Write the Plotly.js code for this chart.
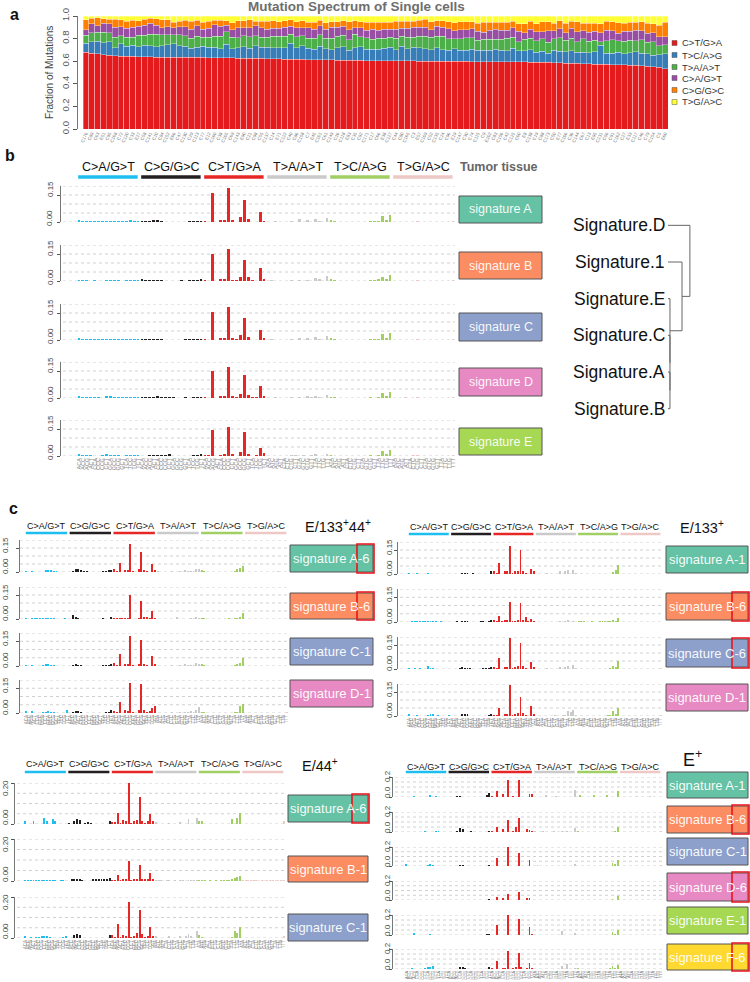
<!DOCTYPE html>
<html><head><meta charset="utf-8">
<script src="https://cdn.plot.ly/plotly-3.0.1.min.js"></script>
<style>html,body{margin:0;padding:0;background:#fff}#chart{width:750px;height:982px}</style>
</head><body><div id="chart"></div>
<script>
// ================= DATA =================
// Panel a: single-cell mutation spectrum
const cellLabels = [
"C176","C89","C63","E51","C95","C168","C72","C120","C33","E27",
"C58","C141","C10","C84","C152","E66","C47","C130","C29","C113",
"C77","E12","C160","C38","C105","C69","C143","E90","C21","C98",
"C55","C137","C14","E71","C122","C40","C86","C158","C7","E45",
"C101","C61","C149","C26","C118","E83","C35","C92","C171","C17",
"C66","E38","C127","C44","C80","C165","C3","E57","C109","C52",
"C135","C24","C96","E19","C147","C30","C74","C115","C9","E102",
"C83","C156","C42","C125","C60","E8","C138","C19","C88","C173",
"C50","E77","C106","C36","C144","C67","C13","E95","C131","C56",
"C91","C162","C27","E33","C117","C46","C79","C154","C5","E60"];
const spectrumTypes = ["C>T/G>A","T>C/A>G","T>A/A>T","C>A/G>T","C>G/G>C","T>G/A>C"];
const fracCT = [
0.68,0.67,0.665,0.655,0.652,0.65,0.645,0.643,0.642,0.64,
0.64,0.638,0.637,0.636,0.636,0.635,0.635,0.634,0.634,0.633,
0.633,0.632,0.632,0.631,0.63,0.63,0.628,0.627,0.626,0.625,
0.624,0.622,0.62,0.62,0.619,0.618,0.617,0.616,0.615,0.614,
0.613,0.612,0.611,0.61,0.61,0.609,0.608,0.607,0.606,0.605,
0.605,0.604,0.604,0.603,0.603,0.602,0.602,0.601,0.601,0.6,
0.6,0.6,0.599,0.599,0.598,0.598,0.597,0.597,0.596,0.596,
0.595,0.595,0.594,0.594,0.593,0.593,0.592,0.591,0.59,0.589,
0.588,0.586,0.584,0.582,0.58,0.578,0.576,0.575,0.573,0.572,
0.57,0.569,0.567,0.565,0.563,0.56,0.557,0.553,0.548,0.535];
const fracTC = [
0.08,0.1,0.11,0.11,0.12,0.07,0.11,0.09,0.1,0.09,
0.1,0.1,0.09,0.1,0.11,0.12,0.1,0.1,0.08,0.09,
0.1,0.09,0.09,0.08,0.12,0.08,0.09,0.1,0.09,0.11,
0.1,0.1,0.1,0.1,0.1,0.14,0.1,0.12,0.1,0.09,
0.12,0.1,0.09,0.11,0.12,0.09,0.11,0.12,0.1,0.1,
0.1,0.11,0.12,0.1,0.13,0.11,0.12,0.12,0.11,0.1,
0.12,0.1,0.1,0.11,0.1,0.1,0.11,0.1,0.1,0.1,
0.11,0.1,0.1,0.12,0.1,0.1,0.11,0.09,0.1,0.08,
0.11,0.1,0.1,0.11,0.1,0.1,0.1,0.11,0.17,0.1,
0.1,0.11,0.1,0.11,0.12,0.11,0.11,0.1,0.11,0.13];
const fracTA = [
0.07,0.08,0.08,0.09,0.08,0.09,0.07,0.08,0.07,0.1,
0.09,0.1,0.11,0.1,0.09,0.08,0.1,0.09,0.09,0.1,
0.08,0.09,0.1,0.11,0.11,0.1,0.09,0.1,0.1,0.09,
0.09,0.09,0.1,0.1,0.1,0.08,0.1,0.09,0.09,0.1,
0.1,0.09,0.1,0.1,0.1,0.09,0.12,0.09,0.1,0.09,
0.1,0.09,0.09,0.1,0.09,0.1,0.09,0.1,0.11,0.11,
0.1,0.12,0.1,0.09,0.1,0.11,0.1,0.09,0.1,0.1,
0.09,0.1,0.11,0.1,0.08,0.1,0.1,0.1,0.11,0.1,
0.1,0.12,0.1,0.11,0.09,0.12,0.1,0.1,0.03,0.11,
0.12,0.1,0.11,0.11,0.1,0.12,0.1,0.12,0.08,0.08];
const fracCA = [
0.05,0.08,0.06,0.08,0.08,0.09,0.08,0.08,0.09,0.08,
0.09,0.1,0.08,0.06,0.07,0.06,0.07,0.08,0.08,0.09,
0.07,0.08,0.1,0.09,0.06,0.07,0.09,0.07,0.08,0.09,
0.08,0.07,0.07,0.07,0.08,0.07,0.08,0.07,0.09,0.08,
0.08,0.08,0.1,0.08,0.08,0.09,0.06,0.08,0.07,0.09,
0.07,0.08,0.07,0.08,0.07,0.08,0.09,0.08,0.08,0.07,
0.09,0.08,0.09,0.07,0.08,0.07,0.08,0.08,0.06,0.08,
0.09,0.08,0.07,0.08,0.09,0.06,0.08,0.08,0.06,0.1,
0.07,0.08,0.07,0.09,0.09,0.07,0.08,0.08,0.08,0.09,
0.08,0.07,0.09,0.08,0.09,0.08,0.08,0.08,0.08,0.07];
const fracCG = [
0.085,0.05,0.07,0.04,0.04,0.07,0.06,0.06,0.06,0.05,
0.05,0.04,0.06,0.07,0.06,0.05,0.05,0.06,0.07,0.05,
0.06,0.06,0.04,0.05,0.04,0.06,0.06,0.06,0.07,0.04,
0.06,0.07,0.07,0.06,0.06,0.06,0.05,0.06,0.05,0.06,
0.05,0.06,0.05,0.05,0.05,0.07,0.06,0.05,0.07,0.06,
0.07,0.06,0.06,0.07,0.06,0.06,0.05,0.06,0.07,0.07,
0.05,0.06,0.06,0.07,0.07,0.07,0.06,0.07,0.09,0.07,
0.06,0.07,0.07,0.06,0.07,0.08,0.07,0.07,0.09,0.08,
0.07,0.07,0.08,0.06,0.09,0.07,0.08,0.07,0.08,0.08,
0.08,0.09,0.07,0.08,0.07,0.08,0.09,0.08,0.1,0.13];
const fracTG = [
0.035,0.02,0.015,0.025,0.028,0.03,0.035,0.047,0.038,0.04,
0.03,0.022,0.023,0.034,0.034,0.055,0.045,0.036,0.046,0.037,
0.057,0.048,0.038,0.039,0.04,0.06,0.042,0.043,0.034,0.045,
0.046,0.048,0.04,0.05,0.041,0.032,0.053,0.044,0.055,0.056,
0.037,0.058,0.049,0.05,0.04,0.051,0.042,0.053,0.054,0.055,
0.055,0.056,0.056,0.047,0.047,0.048,0.048,0.039,0.029,0.05,
0.04,0.04,0.051,0.061,0.052,0.052,0.053,0.063,0.054,0.054,
0.055,0.055,0.056,0.046,0.067,0.067,0.048,0.069,0.05,0.051,
0.062,0.044,0.066,0.048,0.05,0.062,0.064,0.065,0.067,0.048,
0.05,0.061,0.063,0.055,0.057,0.05,0.063,0.067,0.082,0.055];

// 96-channel signatures
const mutationTypes = ["C>A/G>T","C>G/G>C","C>T/G>A","T>A/A>T","T>C/A>G","T>G/A>C"];
const refBases = ["C","C","C","T","T","T"];
const flankBases = ["A","C","G","T"];

// Panel b: tumor tissue
const sigA_tumor = [
0.012,0.006,0.008,0.003,0.003,0.003,0.004,0.007,0.007,0.007,0.006,0.003,0.004,0.009,0.006,0.005,
0.003,0.003,0.005,0.009,0.009,0.007,0.002,0.002,0.002,0.002,0.002,0.002,0.004,0.005,0.003,0.008,
0.004,0.002,0.161,0.002,0.012,0.013,0.187,0.009,0.002,0.026,0.124,0.014,0.002,0.002,0.054,0.008,
0.001,0.002,0.004,0.001,0.001,0.002,0.004,0.001,0.015,0.002,0.010,0.001,0.016,0.006,0.002,0.020,
0.010,0.003,0.002,0.002,0.002,0.002,0.002,0.002,0.002,0.002,0.004,0.003,0.005,0.035,0.012,0.041,
0.002,0.001,0.001,0.002,0.001,0.002,0.006,0.002,0.001,0.001,0.001,0.002,0.002,0.001,0.002,0.003];
const sigB_tumor = [
0.005,0.005,0.004,0.002,0.003,0.002,0.002,0.006,0.006,0.004,0.005,0.002,0.003,0.005,0.003,0.006,
0.012,0.003,0.004,0.007,0.008,0.005,0.002,0.002,0.002,0.002,0.003,0.002,0.005,0.007,0.004,0.010,
0.005,0.002,0.148,0.002,0.010,0.010,0.176,0.008,0.003,0.024,0.117,0.020,0.003,0.002,0.070,0.010,
0.001,0.004,0.001,0.001,0.002,0.002,0.003,0.001,0.004,0.002,0.006,0.002,0.018,0.010,0.002,0.028,
0.012,0.008,0.002,0.002,0.002,0.002,0.002,0.002,0.002,0.002,0.003,0.004,0.010,0.025,0.010,0.032,
0.002,0.001,0.001,0.002,0.001,0.002,0.006,0.002,0.001,0.001,0.001,0.002,0.002,0.001,0.002,0.003];
const sigC_tumor = [
0.010,0.005,0.007,0.003,0.003,0.004,0.004,0.008,0.006,0.007,0.006,0.003,0.004,0.008,0.005,0.006,
0.003,0.003,0.006,0.008,0.008,0.006,0.002,0.002,0.002,0.002,0.002,0.003,0.004,0.006,0.004,0.008,
0.004,0.002,0.158,0.002,0.012,0.012,0.183,0.009,0.003,0.026,0.122,0.015,0.002,0.002,0.055,0.009,
0.002,0.003,0.002,0.002,0.001,0.002,0.003,0.002,0.012,0.002,0.009,0.002,0.016,0.008,0.002,0.022,
0.010,0.003,0.002,0.002,0.002,0.002,0.002,0.002,0.002,0.002,0.004,0.003,0.005,0.033,0.012,0.040,
0.002,0.001,0.001,0.002,0.001,0.002,0.005,0.002,0.001,0.001,0.001,0.002,0.002,0.001,0.002,0.003];
const sigD_tumor = [
0.009,0.008,0.004,0.007,0.003,0.003,0.002,0.010,0.011,0.006,0.004,0.003,0.007,0.003,0.008,0.004,
0.003,0.004,0.003,0.005,0.009,0.004,0.007,0.003,0.003,0.002,0.002,0.003,0.002,0.003,0.003,0.008,
0.004,0.002,0.150,0.002,0.010,0.012,0.172,0.009,0.003,0.025,0.130,0.014,0.003,0.003,0.067,0.010,
0.002,0.002,0.006,0.002,0.001,0.002,0.003,0.001,0.003,0.002,0.010,0.004,0.010,0.004,0.002,0.018,
0.006,0.003,0.002,0.002,0.002,0.002,0.002,0.002,0.002,0.002,0.003,0.002,0.004,0.030,0.010,0.036,
0.002,0.001,0.002,0.003,0.001,0.002,0.004,0.002,0.001,0.001,0.001,0.002,0.002,0.001,0.002,0.003];
const sigE_tumor = [
0.010,0.008,0.003,0.006,0.002,0.002,0.003,0.011,0.004,0.008,0.003,0.002,0.007,0.003,0.005,0.003,
0.002,0.002,0.003,0.003,0.008,0.004,0.006,0.011,0.002,0.002,0.002,0.002,0.002,0.004,0.006,0.012,
0.008,0.008,0.144,0.002,0.005,0.010,0.163,0.010,0.002,0.022,0.131,0.012,0.002,0.003,0.043,0.016,
0.001,0.002,0.001,0.002,0.001,0.002,0.005,0.008,0.002,0.004,0.001,0.004,0.012,0.002,0.002,0.013,
0.006,0.002,0.002,0.002,0.002,0.002,0.002,0.002,0.002,0.002,0.003,0.002,0.004,0.030,0.010,0.035,
0.002,0.001,0.002,0.002,0.001,0.004,0.006,0.002,0.001,0.001,0.001,0.002,0.002,0.001,0.002,0.004];

// Panel c: E/133+44+
const sigA6_E133p44p = [
0.008,0.003,0.006,0.003,0.002,0.002,0.003,0.012,0.010,0.010,0.006,0.004,0.002,0.002,0.003,0.002,
0.003,0.008,0.019,0.017,0.010,0.004,0.006,0.003,0.002,0.002,0.002,0.003,0.004,0.008,0.010,0.014,
0.020,0.005,0.058,0.003,0.010,0.012,0.173,0.004,0.002,0.020,0.124,0.015,0.004,0.002,0.050,0.012,
0.005,0.002,0.002,0.003,0.002,0.004,0.002,0.001,0.006,0.002,0.010,0.004,0.008,0.004,0.016,0.020,
0.012,0.005,0.003,0.002,0.002,0.002,0.002,0.002,0.002,0.002,0.002,0.003,0.006,0.020,0.028,0.040,
0.001,0.001,0.001,0.001,0.001,0.001,0.001,0.001,0.001,0.001,0.001,0.001,0.004,0.001,0.001,0.002];
const sigB6_E133p44p = [
0.004,0.003,0.004,0.004,0.004,0.004,0.004,0.006,0.005,0.008,0.004,0.003,0.002,0.002,0.004,0.002,
0.003,0.025,0.012,0.008,0.003,0.002,0.002,0.002,0.002,0.002,0.002,0.002,0.004,0.002,0.003,0.010,
0.006,0.004,0.008,0.004,0.006,0.006,0.150,0.003,0.002,0.008,0.113,0.010,0.012,0.004,0.050,0.008,
0.002,0.002,0.002,0.002,0.002,0.003,0.003,0.012,0.002,0.002,0.002,0.003,0.006,0.004,0.012,0.004,
0.004,0.004,0.003,0.002,0.002,0.002,0.002,0.003,0.002,0.002,0.004,0.002,0.006,0.008,0.010,0.037,
0.001,0.001,0.001,0.001,0.001,0.001,0.001,0.001,0.001,0.001,0.001,0.001,0.001,0.001,0.001,0.003];
const sigC1_E133p44p = [
0.008,0.002,0.006,0.003,0.002,0.003,0.004,0.010,0.012,0.008,0.005,0.003,0.002,0.002,0.003,0.002,
0.002,0.004,0.010,0.008,0.006,0.003,0.002,0.002,0.002,0.002,0.002,0.003,0.004,0.005,0.004,0.012,
0.016,0.005,0.072,0.003,0.012,0.014,0.180,0.005,0.002,0.010,0.155,0.012,0.004,0.002,0.058,0.010,
0.002,0.002,0.002,0.003,0.002,0.004,0.003,0.002,0.006,0.003,0.012,0.004,0.008,0.004,0.016,0.010,
0.010,0.006,0.002,0.002,0.002,0.002,0.002,0.002,0.002,0.002,0.002,0.002,0.006,0.010,0.020,0.050,
0.001,0.001,0.001,0.001,0.001,0.001,0.001,0.001,0.001,0.001,0.001,0.001,0.003,0.001,0.002,0.003];
const sigD1_E133p44p = [
0.010,0.002,0.012,0.003,0.002,0.003,0.004,0.008,0.010,0.006,0.004,0.003,0.002,0.002,0.002,0.016,
0.002,0.004,0.012,0.012,0.006,0.003,0.002,0.002,0.002,0.002,0.002,0.002,0.003,0.004,0.004,0.016,
0.010,0.004,0.066,0.003,0.016,0.010,0.180,0.004,0.002,0.020,0.175,0.020,0.004,0.012,0.030,0.045,
0.002,0.002,0.002,0.003,0.002,0.004,0.003,0.002,0.004,0.003,0.006,0.004,0.012,0.004,0.020,0.036,
0.008,0.006,0.002,0.002,0.002,0.002,0.002,0.002,0.002,0.002,0.002,0.002,0.004,0.008,0.044,0.057,
0.001,0.001,0.001,0.001,0.001,0.001,0.001,0.001,0.001,0.001,0.001,0.001,0.001,0.001,0.001,0.004];

// Panel c: E/133+
const sigA1_E133p = [
0.008,0.002,0.002,0.006,0.002,0.002,0.003,0.004,0.002,0.002,0.002,0.002,0.002,0.001,0.001,0.001,
0.001,0.001,0.001,0.002,0.008,0.006,0.005,0.003,0.004,0.002,0.001,0.001,0.002,0.002,0.003,0.016,
0.016,0.004,0.066,0.003,0.016,0.016,0.173,0.004,0.016,0.016,0.148,0.020,0.006,0.002,0.033,0.016,
0.003,0.002,0.001,0.002,0.008,0.002,0.002,0.003,0.002,0.016,0.002,0.016,0.024,0.002,0.028,0.008,
0.002,0.002,0.002,0.002,0.002,0.002,0.002,0.002,0.002,0.002,0.002,0.002,0.003,0.012,0.024,0.054,
0.001,0.001,0.001,0.001,0.001,0.001,0.001,0.001,0.001,0.001,0.001,0.001,0.001,0.001,0.001,0.003];
const sigB6_E133p = [
0.003,0.006,0.004,0.004,0.006,0.006,0.006,0.008,0.006,0.008,0.004,0.003,0.004,0.003,0.002,0.002,
0.002,0.002,0.004,0.003,0.006,0.006,0.004,0.002,0.002,0.003,0.003,0.004,0.005,0.003,0.006,0.010,
0.010,0.004,0.037,0.004,0.010,0.012,0.122,0.006,0.008,0.012,0.113,0.010,0.029,0.004,0.020,0.006,
0.002,0.002,0.002,0.002,0.003,0.002,0.003,0.002,0.003,0.004,0.002,0.006,0.010,0.003,0.004,0.002,
0.004,0.004,0.004,0.003,0.003,0.005,0.003,0.002,0.004,0.004,0.004,0.004,0.006,0.012,0.006,0.024,
0.002,0.002,0.002,0.001,0.001,0.002,0.001,0.002,0.001,0.001,0.001,0.002,0.002,0.001,0.002,0.003];
const sigC6_E133p = [
0.006,0.002,0.004,0.003,0.006,0.002,0.002,0.016,0.006,0.008,0.002,0.002,0.002,0.001,0.001,0.001,
0.001,0.001,0.002,0.004,0.010,0.008,0.006,0.004,0.003,0.002,0.002,0.003,0.004,0.004,0.004,0.014,
0.014,0.004,0.066,0.003,0.014,0.014,0.194,0.004,0.014,0.020,0.165,0.018,0.004,0.002,0.045,0.012,
0.002,0.002,0.002,0.002,0.006,0.002,0.002,0.003,0.002,0.012,0.002,0.014,0.020,0.002,0.026,0.004,
0.002,0.002,0.002,0.002,0.002,0.002,0.002,0.002,0.002,0.002,0.002,0.002,0.004,0.020,0.010,0.050,
0.001,0.001,0.001,0.001,0.001,0.001,0.002,0.001,0.001,0.001,0.001,0.001,0.001,0.001,0.001,0.004];
const sigD1_E133p = [
0.012,0.002,0.002,0.004,0.003,0.002,0.003,0.006,0.012,0.010,0.002,0.006,0.002,0.002,0.001,0.006,
0.002,0.001,0.002,0.002,0.012,0.014,0.012,0.003,0.002,0.002,0.002,0.002,0.002,0.002,0.004,0.012,
0.006,0.004,0.047,0.003,0.010,0.012,0.195,0.004,0.014,0.016,0.120,0.016,0.006,0.002,0.064,0.010,
0.002,0.002,0.001,0.002,0.002,0.002,0.002,0.004,0.002,0.002,0.006,0.004,0.032,0.024,0.036,0.004,
0.002,0.002,0.002,0.002,0.002,0.002,0.002,0.002,0.002,0.002,0.002,0.004,0.004,0.030,0.010,0.048,
0.001,0.001,0.001,0.001,0.001,0.001,0.001,0.001,0.001,0.001,0.001,0.001,0.001,0.001,0.001,0.006];

// Panel c: E/44+
const sigA6_E44p = [
0.013,0.002,0.002,0.016,0.002,0.002,0.002,0.029,0.013,0.002,0.022,0.013,0.002,0.002,0.002,0.002,
0.003,0.002,0.016,0.022,0.019,0.002,0.006,0.010,0.003,0.002,0.002,0.002,0.002,0.002,0.002,0.013,
0.012,0.008,0.056,0.003,0.019,0.016,0.200,0.004,0.013,0.019,0.132,0.016,0.004,0.013,0.048,0.013,
0.008,0.002,0.002,0.002,0.002,0.006,0.002,0.002,0.002,0.010,0.002,0.002,0.022,0.002,0.002,0.029,
0.016,0.013,0.002,0.002,0.002,0.002,0.002,0.002,0.002,0.002,0.002,0.002,0.022,0.002,0.029,0.052,
0.001,0.001,0.001,0.001,0.001,0.001,0.001,0.001,0.001,0.001,0.001,0.001,0.001,0.001,0.001,0.013];
const sigB1_E44p = [
0.006,0.006,0.006,0.006,0.006,0.006,0.006,0.006,0.006,0.004,0.006,0.004,0.002,0.006,0.006,0.002,
0.002,0.008,0.010,0.010,0.010,0.006,0.002,0.002,0.002,0.008,0.008,0.008,0.008,0.008,0.010,0.016,
0.006,0.006,0.027,0.006,0.010,0.008,0.097,0.006,0.010,0.008,0.076,0.010,0.010,0.010,0.039,0.010,
0.004,0.004,0.004,0.002,0.004,0.004,0.002,0.004,0.002,0.006,0.004,0.002,0.006,0.004,0.004,0.006,
0.006,0.006,0.004,0.002,0.006,0.002,0.006,0.002,0.006,0.006,0.006,0.004,0.010,0.016,0.018,0.024,
0.003,0.003,0.003,0.003,0.003,0.003,0.001,0.003,0.001,0.003,0.003,0.003,0.003,0.003,0.003,0.003];
const sigC1_E44p = [
0.010,0.002,0.006,0.002,0.004,0.006,0.008,0.010,0.012,0.006,0.002,0.002,0.002,0.002,0.003,0.012,
0.002,0.002,0.016,0.020,0.016,0.002,0.002,0.002,0.002,0.002,0.002,0.002,0.002,0.002,0.002,0.016,
0.016,0.006,0.069,0.003,0.014,0.012,0.177,0.004,0.010,0.022,0.137,0.018,0.004,0.008,0.056,0.012,
0.008,0.002,0.002,0.002,0.002,0.010,0.002,0.002,0.002,0.012,0.002,0.010,0.020,0.012,0.002,0.036,
0.016,0.004,0.002,0.002,0.002,0.002,0.002,0.002,0.002,0.002,0.002,0.002,0.004,0.035,0.022,0.056,
0.001,0.001,0.001,0.001,0.001,0.001,0.001,0.001,0.001,0.001,0.001,0.001,0.001,0.001,0.001,0.010];

// Panel c: E+
const sigA1_Ep = [
0.002,0.002,0.002,0.013,0.002,0.002,0.002,0.002,0.002,0.020,0.002,0.013,0.002,0.002,0.002,0.002,
0.002,0.002,0.002,0.013,0.013,0.002,0.002,0.002,0.002,0.002,0.002,0.002,0.002,0.002,0.020,0.040,
0.006,0.002,0.060,0.003,0.027,0.002,0.167,0.002,0.006,0.002,0.167,0.002,0.003,0.002,0.033,0.033,
0.002,0.002,0.002,0.002,0.020,0.002,0.002,0.002,0.013,0.002,0.002,0.002,0.002,0.002,0.002,0.067,
0.002,0.020,0.002,0.002,0.002,0.002,0.020,0.002,0.002,0.002,0.002,0.020,0.002,0.002,0.002,0.060,
0.001,0.001,0.001,0.001,0.001,0.001,0.013,0.001,0.001,0.001,0.001,0.013,0.001,0.001,0.001,0.001];
const sigB6_Ep = [
0.003,0.002,0.002,0.002,0.002,0.002,0.002,0.013,0.002,0.002,0.002,0.010,0.010,0.002,0.002,0.002,
0.002,0.002,0.002,0.010,0.040,0.035,0.002,0.002,0.013,0.002,0.002,0.002,0.002,0.002,0.002,0.010,
0.006,0.002,0.047,0.003,0.027,0.002,0.123,0.002,0.006,0.047,0.140,0.002,0.003,0.027,0.020,0.010,
0.013,0.002,0.002,0.013,0.002,0.002,0.002,0.013,0.002,0.002,0.013,0.002,0.013,0.002,0.002,0.040,
0.013,0.002,0.002,0.002,0.002,0.002,0.002,0.002,0.002,0.002,0.002,0.002,0.002,0.002,0.013,0.047,
0.001,0.001,0.001,0.001,0.001,0.001,0.001,0.001,0.001,0.001,0.001,0.001,0.001,0.001,0.001,0.010];
const sigC1_Ep = [
0.020,0.002,0.002,0.002,0.002,0.002,0.002,0.002,0.013,0.020,0.013,0.002,0.002,0.002,0.002,0.002,
0.002,0.002,0.002,0.002,0.010,0.010,0.002,0.002,0.002,0.002,0.002,0.002,0.002,0.002,0.002,0.013,
0.002,0.002,0.087,0.002,0.002,0.002,0.200,0.002,0.002,0.002,0.140,0.002,0.002,0.002,0.067,0.002,
0.002,0.013,0.002,0.002,0.002,0.002,0.002,0.002,0.002,0.002,0.002,0.002,0.002,0.002,0.002,0.020,
0.002,0.002,0.002,0.002,0.002,0.002,0.002,0.002,0.002,0.002,0.002,0.002,0.002,0.027,0.020,0.060,
0.001,0.001,0.001,0.001,0.001,0.001,0.001,0.001,0.001,0.001,0.001,0.001,0.001,0.001,0.001,0.010];
const sigD6_Ep = [
0.004,0.004,0.004,0.004,0.004,0.004,0.004,0.004,0.004,0.002,0.004,0.004,0.002,0.004,0.004,0.002,
0.002,0.002,0.004,0.002,0.004,0.002,0.004,0.002,0.002,0.004,0.004,0.004,0.004,0.004,0.002,0.006,
0.004,0.002,0.033,0.002,0.020,0.002,0.060,0.002,0.004,0.004,0.080,0.002,0.002,0.020,0.020,0.004,
0.002,0.002,0.002,0.002,0.002,0.002,0.002,0.002,0.002,0.002,0.002,0.002,0.002,0.002,0.002,0.004,
0.002,0.004,0.002,0.002,0.004,0.004,0.002,0.004,0.004,0.002,0.004,0.004,0.004,0.010,0.004,0.040,
0.002,0.002,0.002,0.002,0.002,0.001,0.002,0.002,0.002,0.001,0.002,0.002,0.001,0.002,0.002,0.002];
const sigE1_Ep = [
0.004,0.002,0.002,0.020,0.002,0.002,0.002,0.002,0.002,0.013,0.002,0.002,0.002,0.002,0.002,0.002,
0.002,0.002,0.002,0.002,0.004,0.002,0.002,0.002,0.002,0.002,0.002,0.002,0.002,0.002,0.013,0.013,
0.002,0.002,0.097,0.002,0.002,0.002,0.200,0.002,0.002,0.002,0.157,0.002,0.002,0.002,0.077,0.013,
0.002,0.002,0.002,0.002,0.002,0.002,0.002,0.002,0.002,0.002,0.040,0.002,0.002,0.002,0.002,0.020,
0.002,0.002,0.002,0.002,0.002,0.002,0.002,0.002,0.002,0.002,0.002,0.002,0.002,0.026,0.010,0.047,
0.001,0.001,0.001,0.001,0.001,0.001,0.001,0.001,0.001,0.001,0.001,0.001,0.001,0.001,0.001,0.003];
const sigF6_Ep = [
0.004,0.002,0.006,0.004,0.002,0.002,0.004,0.013,0.020,0.020,0.027,0.004,0.002,0.002,0.002,0.002,
0.002,0.002,0.002,0.002,0.020,0.020,0.010,0.002,0.002,0.002,0.002,0.002,0.002,0.002,0.002,0.020,
0.010,0.004,0.077,0.002,0.010,0.010,0.183,0.004,0.010,0.020,0.160,0.020,0.002,0.010,0.060,0.010,
0.002,0.002,0.002,0.002,0.002,0.002,0.002,0.002,0.002,0.002,0.033,0.002,0.047,0.002,0.002,0.010,
0.010,0.002,0.002,0.002,0.002,0.002,0.002,0.002,0.002,0.002,0.002,0.002,0.010,0.033,0.010,0.040,
0.001,0.001,0.001,0.001,0.001,0.001,0.001,0.001,0.001,0.001,0.001,0.001,0.001,0.001,0.001,0.003];

// Dendrogram of tumour signatures (R hclust style: negative = leaf, positive = earlier merge)
const dendroLeaves = ["Signature.D","Signature.1","Signature.E","Signature.C","Signature.A","Signature.B"];
const dendroMerge = [[-5,-6],[-4,1],[-3,2],[-2,3],[-1,4]];
const dendroHeight = [0.09,0.09,0.09,0.64,1.0];

// ================= STYLE / LAYOUT =================
const W = 750, H = 982;
const fx = px => px / W;
const fy = py => 1 - py / H;
const FONT = "Liberation Sans, Arial, Helvetica, sans-serif";
const spectrumColors = ["#e41a1c","#377eb8","#4daf4a","#984ea3","#ff7f00","#ffff33"];
const typeColors = ["#1ebff0","#231f20","#e62725","#cbcacb","#a1cf64","#edc8c5"];
const boxColors = {A:"#66c2a5",B:"#fc8d62",C:"#8da0cb",D:"#e78ac3",E:"#a6d854",F:"#ffd92f"};

const channelIdx = [], channelLabels = [], channelColors = [];
mutationTypes.forEach((t, g) => {
  flankBases.forEach(a => flankBases.forEach(b => {
    channelIdx.push(channelIdx.length);
    channelLabels.push(a + refBases[g] + b);
    channelColors.push(typeColors[g]);
  }));
});

const traces = [], shapes = [], annotations = [], layout = {};
function ann(o) { annotations.push(Object.assign({showarrow: false, xanchor: 'center', yanchor: 'middle'}, o)); }
let axCount = 0;
function nextAxes() {
  axCount++;
  const s = axCount === 1 ? '' : String(axCount);
  return {x: 'x' + s, y: 'y' + s, xa: 'xaxis' + s, ya: 'yaxis' + s};
}

// ---------- Panel a ----------
const aAx = nextAxes();
const spectrumSeries = [fracCT, fracTC, fracTA, fracCA, fracCG, fracTG];
spectrumSeries.forEach((vals, i) => traces.push({
  type: 'bar', x: cellLabels, y: vals, name: spectrumTypes[i],
  marker: {color: spectrumColors[i], line: {width: 0.6, color: 'rgba(255,255,255,0.55)'}},
  xaxis: aAx.x, yaxis: aAx.y, hoverinfo: 'skip'
}));
layout[aAx.xa] = {domain: [fx(83), fx(668)], anchor: aAx.y, type: 'category', showgrid: false,
  zeroline: false, showline: false, ticks: '', tickangle: -65, tickfont: {size: 4.5, color: '#777'}};
layout[aAx.ya] = {domain: [fy(129), fy(16)], range: [0, 1], anchor: 'free', position: fx(77),
  showline: true, linecolor: '#555', linewidth: 0.8, ticks: 'outside', ticklen: 4, tickcolor: '#555',
  tickvals: [0, 0.2, 0.4, 0.6, 0.8, 1.0], ticktext: ["0.0","0.2","0.4","0.6","0.8","1.0"],
  tickangle: -90, tickfont: {size: 9.5, color: '#555'}, showgrid: false, zeroline: false};
ann({xref: 'paper', yref: 'paper', x: fx(49), y: fy(72), text: 'Fraction of Mutations',
  textangle: -90, font: {size: 10, color: '#444'}});
ann({xref: 'paper', yref: 'paper', x: fx(356), y: fy(7), text: '<b>Mutation Spectrum of Single cells</b>',
  font: {size: 13.5, color: '#6e6e6e'}});
const legendY = [43, 55, 67, 78, 90, 102];
spectrumTypes.forEach((t, i) => {
  shapes.push({type: 'rect', xref: 'paper', yref: 'paper', x0: fx(672), x1: fx(677),
    y0: fy(legendY[i] + 2.5), y1: fy(legendY[i] - 2.5), fillcolor: spectrumColors[i], line: {color: '#555', width: 0.5}});
  ann({xref: 'paper', yref: 'paper', x: fx(680), y: fy(legendY[i]), xanchor: 'left',
    text: t, font: {size: 9.5, color: '#333'}});
});

// ---------- Signature groups ----------
// yLab: [label x centre, top label offset from row top, bottom label offset from baseline]
const groups = [
  {grid: [63, 455], bars: [77, 455], axisX: 60, yTicks: [0, 0.15], yText: ["0.00","0.15"], yLab: [50, 3, -4],
   rows: [[186,222],[245,281],[304,340],[362,398],[420,456]],
   sigs: [sigA_tumor, sigB_tumor, sigC_tumor, sigD_tumor, sigE_tumor],
   names: ["signature A","signature B","signature C","signature D","signature E"],
   keys: ["A","B","C","D","E"], hl: [0,0,0,0,0],
   boxX: [459, 542], boxes: [[196,223],[252,279],[313,341],[368,396],[428,455]], boxFont: 12.5,
   header: {labelY: 167, barY: 177, barH: 3.3, font: 12.5}, tickFont: 5.5,
   title: {text: '<b>Tumor tissue</b>', x: 458, y: 167, size: 12.5, color: '#666'}},
  {grid: [20, 290], bars: [25, 288], axisX: 19, yTicks: [0, 0.15], yText: ["0.00","0.15"], yLab: [5, 5, -6],
   rows: [[540,572],[587,619],[633,666],[680,713]],
   sigs: [sigA6_E133p44p, sigB6_E133p44p, sigC1_E133p44p, sigD1_E133p44p],
   names: ["signature A-6","signature B-6","signature C-1","signature D-1"],
   keys: ["A","B","C","D"], hl: [1,1,0,0],
   boxX: [290, 373], boxes: [[545,572],[593,619],[638,665],[680,707]], boxFont: 13,
   header: {labelY: 526, barY: 533, barH: 2.6, font: 9}, tickFont: 4.5,
   title: {text: 'E/133<sup>+</sup>44<sup>+</sup>', x: 303, y: 526, size: 14.5, color: '#111'}},
  {grid: [400, 664], bars: [408, 662], axisX: 397, yTicks: [0, 0.15], yText: ["0.00","0.15"], yLab: [389, 5, -6],
   rows: [[542,574],[589,622],[637,669],[684,716]],
   sigs: [sigA1_E133p, sigB6_E133p, sigC6_E133p, sigD1_E133p],
   names: ["signature A-1","signature B-6","signature C-6","signature D-1"],
   keys: ["A","B","C","D"], hl: [0,1,1,0],
   boxX: [666, 748], boxes: [[546,573],[593,620],[639,667],[684,711]], boxFont: 13,
   header: {labelY: 527, barY: 534, barH: 2.6, font: 9}, tickFont: 4.5,
   title: {text: 'E/133<sup>+</sup>', x: 678, y: 527, size: 14.5, color: '#111'}},
  {grid: [17, 287], bars: [24, 285], axisX: 14, yTicks: [0, 0.2], yText: ["0.00","0.20"], yLab: [5, 5, -7],
   rows: [[783,824],[839,881],[897,938]],
   sigs: [sigA6_E44p, sigB1_E44p, sigC1_E44p],
   names: ["signature A-6","signature B-1","signature C-1"],
   keys: ["A","B","C"], hl: [1,0,0],
   boxX: [288, 368], boxes: [[795,822],[856,882],[914,941]], boxFont: 13,
   header: {labelY: 764, barY: 772, barH: 2.6, font: 9}, tickFont: 4.5,
   title: {text: 'E/44<sup>+</sup>', x: 300, y: 765, size: 14.5, color: '#111'}},
  {grid: [395, 664], bars: [405, 662], axisX: 392, yTicks: [0, 0.2], yText: ["0.0","0.2"], yLab: [387, -1, -5],
   rows: [[777,797],[812,832],[847,866],[881,900],[915,935],[949,969]],
   sigs: [sigA1_Ep, sigB6_Ep, sigC1_Ep, sigD6_Ep, sigE1_Ep, sigF6_Ep],
   names: ["signature A-1","signature B-6","signature C-1","signature D-6","signature E-1","signature F-6"],
   keys: ["A","B","C","D","E","F"], hl: [0,1,0,1,0,1],
   boxX: [667, 748], boxes: [[772,798],[806,833],[838,865],[873,901],[907,934],[944,970]], boxFont: 13,
   header: {labelY: 767, barY: 772, barH: 2.6, font: 9}, tickFont: 4,
   title: {text: 'E<sup>+</sup>', x: 681, y: 758, size: 18, color: '#111'}}
];

const gridVals = [0, 0.05, 0.1, 0.15, 0.2];
groups.forEach(G => {
  const p = (G.bars[1] - G.bars[0]) / 96;
  const xr = [-0.5 - (G.bars[0] - G.grid[0]) / p, 95.5 + (G.grid[1] - G.bars[1]) / p];
  let lastX = null;
  G.rows.forEach((r, ri) => {
    const ax = nextAxes();
    const isLast = ri === G.rows.length - 1;
    traces.push({type: 'bar', x: channelIdx, y: G.sigs[ri], width: 0.72,
      marker: {color: channelColors, line: {width: 0}}, xaxis: ax.x, yaxis: ax.y, hoverinfo: 'skip', showlegend: false});
    layout[ax.xa] = {domain: [fx(G.grid[0]), fx(G.grid[1])], range: xr, anchor: ax.y, showgrid: false,
      zeroline: false, showline: false, ticks: '', showticklabels: isLast, tickmode: 'array',
      tickvals: channelIdx, ticktext: channelLabels, tickangle: -90, tickfont: {size: G.tickFont, color: '#888'}};
    layout[ax.ya] = {domain: [fy(r[1]), fy(r[0])], range: [0, 0.2], anchor: 'free', position: fx(G.axisX),
      showline: true, linecolor: '#555', linewidth: 0.8, ticks: 'outside', ticklen: 3, tickcolor: '#555',
      tickvals: G.yTicks, showticklabels: false, showgrid: false, zeroline: false};
    // y tick labels (R places them slightly inward of the ticks)
    ann({xref: 'paper', yref: 'paper', x: fx(G.yLab[0]), y: fy(r[0] + G.yLab[1]), text: G.yText[1],
      textangle: -90, font: {size: 8, color: '#444'}});
    ann({xref: 'paper', yref: 'paper', x: fx(G.yLab[0]), y: fy(r[1] + G.yLab[2]), text: G.yText[0],
      textangle: -90, font: {size: 8, color: '#444'}});
    gridVals.forEach(v => shapes.push({type: 'line', xref: ax.x + ' domain', x0: 0, x1: 1, yref: ax.y, y0: v, y1: v,
      line: {color: '#c4c4c4', width: 0.8, dash: 'dot'}, layer: 'below'}));
    // label box
    const b = G.boxes[ri];
    shapes.push({type: 'rect', xref: 'paper', yref: 'paper', x0: fx(G.boxX[0]), x1: fx(G.boxX[1]),
      y0: fy(b[1]), y1: fy(b[0]), fillcolor: boxColors[G.keys[ri]], line: {color: '#555', width: 1}});
    ann({xref: 'paper', yref: 'paper', x: fx((G.boxX[0] + G.boxX[1]) / 2), y: fy((b[0] + b[1]) / 2),
      text: G.names[ri], font: {size: G.boxFont, color: 'rgba(255,255,255,0.95)'}});
    if (G.hl[ri]) {
      shapes.push({type: 'rect', xref: 'paper', yref: 'paper', x0: fx(G.boxX[1] - 16), x1: fx(G.boxX[1] + 1),
        y0: fy(b[1] + 1), y1: fy(b[0] - 1), line: {color: '#e8141c', width: 1.6}, fillcolor: 'rgba(0,0,0,0)'});
    }
    lastX = ax.x;
  });
  // header labels and colored bars
  mutationTypes.forEach((t, g) => {
    ann({xref: lastX, yref: 'paper', x: g * 16 + 7.5, y: fy(G.header.labelY),
      text: t, font: {size: G.header.font, color: '#111'}});
    shapes.push({type: 'rect', xref: lastX, yref: 'paper', x0: g * 16 - 0.2, x1: g * 16 + 14.9,
      y0: fy(G.header.barY + G.header.barH / 2), y1: fy(G.header.barY - G.header.barH / 2),
      fillcolor: typeColors[g], line: {width: 0}});
  });
  ann({xref: 'paper', yref: 'paper', x: fx(G.title.x), y: fy(G.title.y), xanchor: 'left',
    text: G.title.text, font: {size: G.title.size, color: G.title.color}});
});

// ---------- Dendrogram ----------
const dAx = nextAxes();
layout[dAx.xa] = {domain: [fx(668), fx(691)], range: [0, 1.05], visible: false, anchor: dAx.y};
layout[dAx.ya] = {domain: [fy(427), fy(207)], range: [5.5, -0.5], visible: false, anchor: dAx.x};
const nodePos = [];
const dx = [], dy = [];
function nodeOf(ref) { return ref < 0 ? {y: -ref - 1, h: 0} : nodePos[ref - 1]; }
dendroMerge.forEach((m, i) => {
  const a = nodeOf(m[0]), b = nodeOf(m[1]), h = dendroHeight[i];
  dx.push(a.h, h, null, b.h, h, null, h, h, null);
  dy.push(a.y, a.y, null, b.y, b.y, null, a.y, b.y, null);
  nodePos.push({y: (a.y + b.y) / 2, h: h});
});
traces.push({type: 'scatter', mode: 'lines', x: dx, y: dy, xaxis: dAx.x, yaxis: dAx.y,
  line: {color: '#666', width: 1}, hoverinfo: 'skip', showlegend: false, connectgaps: false});
dendroLeaves.forEach((name, i) => ann({xref: dAx.x, yref: dAx.y, x: 0, y: i, xanchor: 'right',
  xshift: -1, text: name, font: {size: 17.5, color: '#111'}}));

// ---------- Panel letters ----------
[['a', 8, 15], ['b', 3, 155], ['c', 7, 508]].forEach(l => ann({xref: 'paper', yref: 'paper',
  x: fx(l[1]), y: fy(l[2]), xanchor: 'left', text: '<b>' + l[0] + '</b>', font: {size: 16, color: '#111'}}));

Object.assign(layout, {
  width: W, height: H, margin: {l: 0, r: 0, t: 0, b: 0, pad: 0},
  paper_bgcolor: '#fff', plot_bgcolor: 'rgba(0,0,0,0)', showlegend: false,
  barmode: 'stack', bargap: 0, font: {family: FONT, color: '#111'},
  shapes: shapes, annotations: annotations
});
Plotly.newPlot('chart', traces, layout, {staticPlot: true, displayModeBar: false});
</script>
</body></html>
